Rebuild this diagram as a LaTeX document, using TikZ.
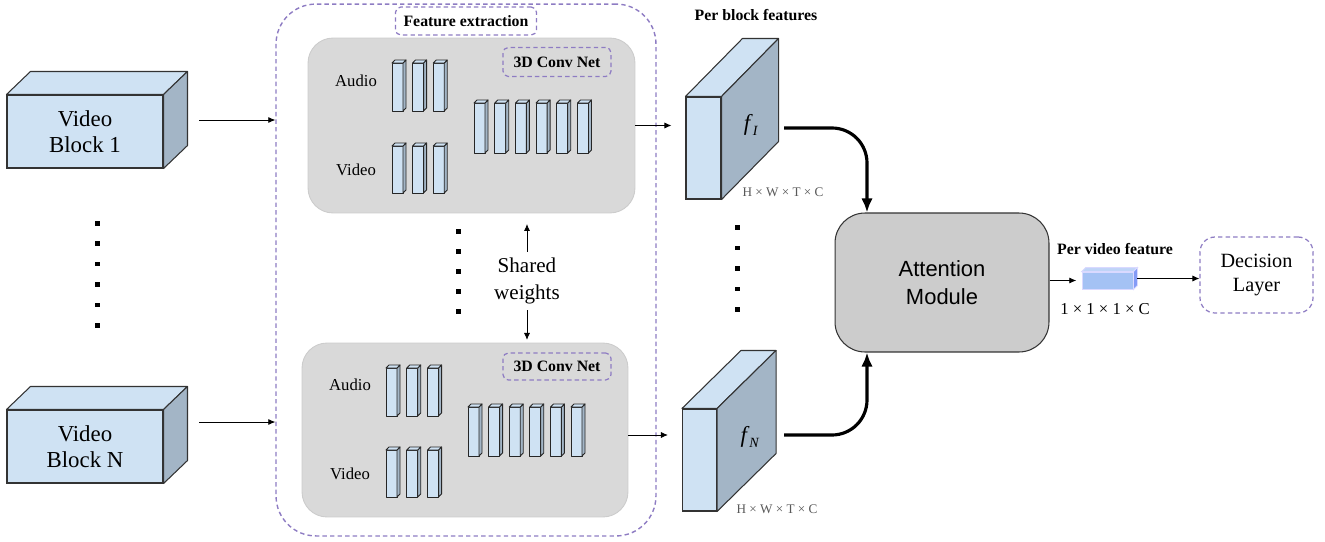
\documentclass[tikz,border=0pt]{standalone}
\usepackage{fontspec}
\setmainfont{Liberation Serif}
\newfontfamily\modfont{Liberation Sans}
\usetikzlibrary{calc,arrows.meta}

\definecolor{boxblue}{HTML}{CFE2F3}
\definecolor{sideblue}{HTML}{A3B5C6}
\definecolor{dashpurple}{HTML}{8E7CC3}
\definecolor{convgray}{HTML}{D9D9D9}
\definecolor{attgray}{HTML}{CCCCCC}
\definecolor{featblue}{HTML}{A4C2F4}

% top and side face behind a front node: #1 style prefix, #2 node, (#3,#4) depth in px
\def\blockfaces[#1](#2)(#3,#4){
	\draw[#1top] (#2.north west) -- ++(#3,-#4) -- ($(#2.north east)+(#3,-#4)$) -- (#2.north east) -- cycle;
	\draw[#1side] (#2.north east) -- ++(#3,-#4) -- ($(#2.south east)+(#3,-#4)$) -- (#2.south east) -- cycle;
}
% one conv layer: (#1,#2) top left of front face, #3 height
\def\convbar(#1,#2,#3){
	\draw[barline, fill=boxblue] (#1,#2) rectangle ++(11,#3);
	\draw[barline, fill=sideblue] (#1+11,#2) -- ++(3,-3) -- ++(0,#3) -- ++(-3,3) -- cycle;
	\draw[barline, fill=boxblue] (#1,#2) -- ++(3,-3) -- ++(11,0) -- ++(-3,3) -- cycle;
}

\begin{document}
\begin{tikzpicture}[x=0.02cm, y=-0.02cm,
	cube/.style={draw=black!80, line width=0.6pt, fill=boxblue, inner sep=0pt, align=center},
	cubetop/.style={draw=black!80, line width=0.6pt, fill=boxblue, line join=round},
	cubeside/.style={draw=black!80, line width=0.6pt, fill=sideblue, line join=round},
	tinytop/.style={draw=blue!15, line width=0.5pt, fill=featblue!70},
	tinyside/.style={draw=blue!15, line width=0.5pt, fill=featblue!80!blue},
	barline/.style={draw=black!85, line width=0.5pt, line join=round},
	tagbox/.style={draw=dashpurple, dash pattern=on 2.5pt off 1.8pt, line width=0.7pt, rounded corners=3pt, fill=white, inner sep=0pt, font=\bfseries\fontsize{9}{10}\selectfont},
	convbox/.style={draw=black!20, fill=convgray, line width=0.5pt, rounded corners=0.5cm, minimum width=6.54cm, minimum height=3.5cm},
	small/.style={font=\fontsize{9.5}{11}\selectfont},
	dims/.style={font=\fontsize{7.5}{9}\selectfont, text=black!65},
	conn/.style={-{Latex[length=4pt,width=3.5pt]}, line width=0.5pt},
	thickconn/.style={-{Latex[length=8pt,width=6.5pt]}, line width=1.8pt, rounded corners=0.7cm},
	dot/.style={fill=black}]
	%%%%% START %%%%%
	\useasboundingbox (0,0) rectangle (1325,541);
	
	% input blocks
	\node[cube, minimum width=3.12cm, minimum height=1.46cm, font=\fontsize{13}{14.7}\selectfont] (vb1) at (85,131.5) {Video\\Block 1};
	\blockfaces[cube](vb1)(24,23)
	\node[cube, minimum width=3.12cm, minimum height=1.46cm, font=\fontsize{13}{14.7}\selectfont] (vbN) at (85,446.5) {Video\\Block N};
	\blockfaces[cube](vbN)(24,23)
	\foreach \i in {0,...,5}
		\fill[dot] (95,221+20.4*\i) rectangle ++(4.5,4.5);
	
	% feature extraction
	\node[draw=dashpurple, dash pattern=on 2.5pt off 1.8pt, line width=0.8pt, rounded corners=0.8cm, minimum width=7.6cm, minimum height=10.64cm] (featbox) at (466,270) {};
	\node[tagbox, minimum width=2.82cm, minimum height=0.56cm] (featlbl) at (466,21) {Feature extraction};
	
	\node[convbox] (convtop) at (471.5,125.5) {};
	\node[convbox, minimum width=6.52cm, minimum height=3.48cm] (convbot) at (465,430) {};
	\node[tagbox, fill=none, minimum width=2.16cm, minimum height=0.58cm] (tagtop) at (557,62) {3D Conv Net};
	\node[tagbox, fill=none, minimum width=2.16cm, minimum height=0.54cm] (tagbot) at (557,366.5) {3D Conv Net};
	
	\node[small] (audtop) at (356,81) {Audio};
	\node[small] (vidtop) at (356,170) {Video};
	\node[small] (audbot) at (350,385) {Audio};
	\node[small] (vidbot) at (350,474) {Video};
	
	\foreach \i in {0,1,2} {
		\convbar(392+20.6*\i,63,48)
		\convbar(392+20.6*\i,146,47)
		\convbar(386+20.8*\i,368,48)
		\convbar(386+20.8*\i,450,47)
	}
	\foreach \i in {0,...,5} {
		\convbar(474+20.7*\i,103,50)
		\convbar(468+20.6*\i,407,49)
	}
	
	\foreach \i in {0,...,4}
		\fill[dot] (456,229+20*\i) rectangle ++(4.5,4.5);
	\node[font=\fontsize{12}{15.3}\selectfont, align=center] (shared) at (527,281) {Shared\\weights};
	\draw[conn, shorten >=6pt] (shared.north) -- (shared.north |- convtop.south);
	\draw[conn, shorten >=1.5pt] (shared.south) -- (shared.south |- convbot.north);
	
	\draw[conn] (vb1) ++(114,-11.5) coordinate (vb1out) -- (vb1out -| featbox.west);
	\draw[conn] (vbN) ++(114,-24.5) coordinate (vbNout) -- (vbNout -| featbox.west);
	
	% per block features
	\node[font=\bfseries\fontsize{9}{10}\selectfont] (blocklbl) at (756,15) {Per block features};
	\node[cube, minimum width=0.7cm, minimum height=2.04cm] (fI) at (703.5,148) {};
	\blockfaces[cube](fI)(57,58)
	\node[font=\fontsize{13}{14}\selectfont] (fIlbl) at (751,125) {\textit{f}\raisebox{-0.55ex}{\fontsize{8}{8}\selectfont\textit{I}}};
	\node[dims] (dimsI) at (783,192) {H × W × T × C};
	
	\node[cube, minimum width=0.68cm, minimum height=2.04cm] (fN) at (699.5,460) {};
	\blockfaces[cube](fN)(59,58)
	\node[font=\fontsize{13}{14}\selectfont] (fNlbl) at (750,437) {\textit{f}\raisebox{-0.55ex}{\fontsize{8}{8}\selectfont\textit{N}}};
	\node[dims] (dimsN) at (777,509) {H × W × T × C};
	
	\foreach \i in {0,...,4}
		\fill[dot] (735,225+20.5*\i) rectangle ++(4.5,4.5);
	
	\draw[conn, shorten >=8pt] (convtop.east) -- (convtop.east -| fI.west);
	\draw[conn, shorten >=8pt] (convbot.east) ++(0,5) coordinate (cbout) -- (cbout -| fN.west);
	
	% attention and decision
	\node[draw=black!80, line width=0.6pt, fill=attgray, rounded corners=0.6cm, minimum width=4.28cm, minimum height=2.78cm, align=center, font=\modfont\fontsize{12.5}{16}\selectfont] (att) at (942,282.5) {Attention\\Module};
	\coordinate (fIout) at (784,128);
	\coordinate (fNout) at (784,435);
	\draw[thickconn] (fIout) -| ($(att.north)+(-75,0)$);
	\draw[thickconn] (fNout) -| ($(att.south)+(-75,0)$);
	
	\node[font=\bfseries\fontsize{9}{10}\selectfont] (videolbl) at (1115,249) {Per video feature};
	\node[draw=blue!15, line width=0.5pt, fill=featblue, minimum width=1.02cm, minimum height=0.34cm, inner sep=0pt] (pvf) at (1107.5,280.5) {};
	\blockfaces[tiny](pvf)(4,4)
	\node[small] (dimsV) at (1105,309) {1 × 1 × 1 × C};
	\draw[conn, shorten >=3pt] (att.east |- pvf.west) -- (pvf.west);
	
	\node[draw=dashpurple, dash pattern=on 2.5pt off 1.8pt, line width=0.7pt, rounded corners=0.3cm, minimum width=2.26cm, minimum height=1.52cm, align=center, font=\fontsize{11.5}{14}\selectfont] (dec) at (1256.5,275) {Decision\\Layer};
	\coordinate (pvfout) at ($(pvf.east)+(4,-2)$);
	\draw[conn] (pvfout) -- (pvfout -| dec.west);
	
	%%%%% END %%%%%
\end{tikzpicture}
\end{document}
